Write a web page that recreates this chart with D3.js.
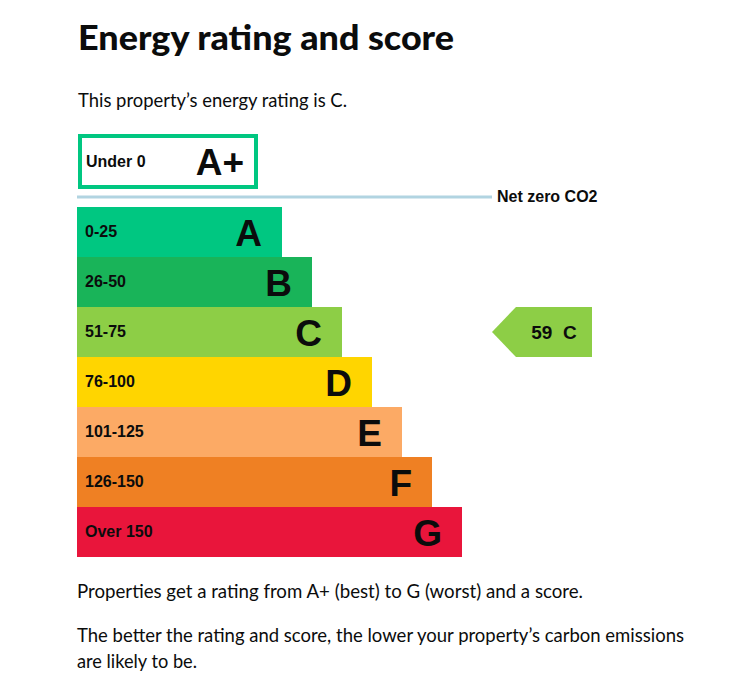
<!DOCTYPE html>
<html>
<head>
<meta charset="utf-8">
<script src="https://cdn.jsdelivr.net/npm/d3@7"></script>
<style>
  html, body { margin: 0; padding: 0; background: #fff; }
  svg { display: block; }
  .gds { font-family: Lato, "Noto Sans", sans-serif; fill: #0b0c0c; }
  .arial { font-family: "Liberation Sans", Arial, sans-serif; font-weight: bold; fill: #0b0c0c; }
</style>
</head>
<body>
<script>
// ---- data ----
const ratings = ["A", "B", "C", "D", "E", "F", "G"];
const ranges = ["0-25", "26-50", "51-75", "76-100", "101-125", "126-150", "Over 150"];
const colors = ["#00c781", "#19b459", "#8dce46", "#ffd500", "#fcaa65", "#ef8023", "#e9153b"];
const topBand = { rating: "A+", range: "Under 0", color: "#00c781" };
const currentScore = 59;
const currentRating = "C";
const netZeroLabel = "Net zero CO2";
const title = "Energy rating and score";
const subtitle = "This property\u2019s energy rating is C.";
const notes = [
  "Properties get a rating from A+ (best) to G (worst) and a score.",
  "The better the rating and score, the lower your property\u2019s carbon emissions",
  "are likely to be."
];

const W = 746, H = 688;
const svg = d3.select("body").append("svg").attr("width", W).attr("height", H);

const left = 77;
const y = d3.scaleBand().domain(ratings).range([207, 557]).paddingInner(0);
const xEnd = d3.scaleLinear().domain([0, ratings.length - 1]).range([282, 462]);

function fit(sel, width) {
  sel.attr("textLength", width).attr("lengthAdjust", "spacingAndGlyphs");
}

// title & subtitle
svg.append("text").attr("class", "gds").attr("x", 78).attr("y", 50)
  .style("font-size", "35px").style("font-weight", "900").text(title).call(fit, 376);
svg.append("text").attr("class", "gds").attr("x", 78).attr("y", 107)
  .style("font-size", "19px").text(subtitle).call(fit, 269);

// A+ band
svg.append("rect").attr("x", 80).attr("y", 136).attr("width", 176).attr("height", 51)
  .attr("fill", "#fff").attr("stroke", topBand.color).attr("stroke-width", 4);
svg.append("text").attr("class", "arial").attr("x", 86).attr("y", 167)
  .style("font-size", "16px").text(topBand.range);
svg.append("text").attr("class", "arial").attr("x", 244).attr("y", 175)
  .attr("text-anchor", "end").style("font-size", "37px").text(topBand.rating);

// net zero line
svg.append("line").attr("x1", left).attr("x2", 492).attr("y1", 197).attr("y2", 197)
  .attr("stroke", "#b1d4e1").attr("stroke-width", 3);
svg.append("text").attr("class", "arial").attr("x", 497).attr("y", 202)
  .style("font-size", "16px").text(netZeroLabel);

// bands
const g = svg.append("g");
const band = g.selectAll("g.band").data(ratings).join("g").attr("class", "band");
band.append("rect")
  .attr("x", left)
  .attr("y", d => y(d))
  .attr("width", (d, i) => xEnd(i) - left)
  .attr("height", y.bandwidth())
  .attr("fill", (d, i) => colors[i]);
band.append("text").attr("class", "arial")
  .attr("x", 85)
  .attr("y", d => y(d) + y.bandwidth() / 2 + 5)
  .style("font-size", "16px")
  .text((d, i) => ranges[i]);
band.append("text").attr("class", "arial")
  .attr("x", (d, i) => xEnd(i) - 20)
  .attr("y", d => y(d) + y.bandwidth() / 2 + 14)
  .attr("text-anchor", "end")
  .style("font-size", "37px")
  .text(d => d);

// current rating arrow
const cy0 = y(currentRating), cy1 = cy0 + y.bandwidth(), cym = cy0 + y.bandwidth() / 2;
const tipX = 492, notchX = 516, rightX = 592;
svg.append("polygon")
  .attr("points", [[tipX, cym], [notchX, cy0], [rightX, cy0], [rightX, cy1], [notchX, cy1]].map(p => p.join(",")).join(" "))
  .attr("fill", colors[ratings.indexOf(currentRating)]);
svg.append("text").attr("class", "arial")
  .attr("x", 554).attr("y", cym + 7)
  .attr("text-anchor", "middle")
  .style("font-size", "19px").style("white-space", "pre")
  .text(currentScore + "  " + currentRating);

// notes
const noteY = [598, 642, 668];
const noteW = [506, 607, 120];
notes.forEach((t, i) => {
  svg.append("text").attr("class", "gds").attr("x", 77).attr("y", noteY[i])
    .style("font-size", "19px").text(t).call(fit, noteW[i]);
});
</script>
</body>
</html>
